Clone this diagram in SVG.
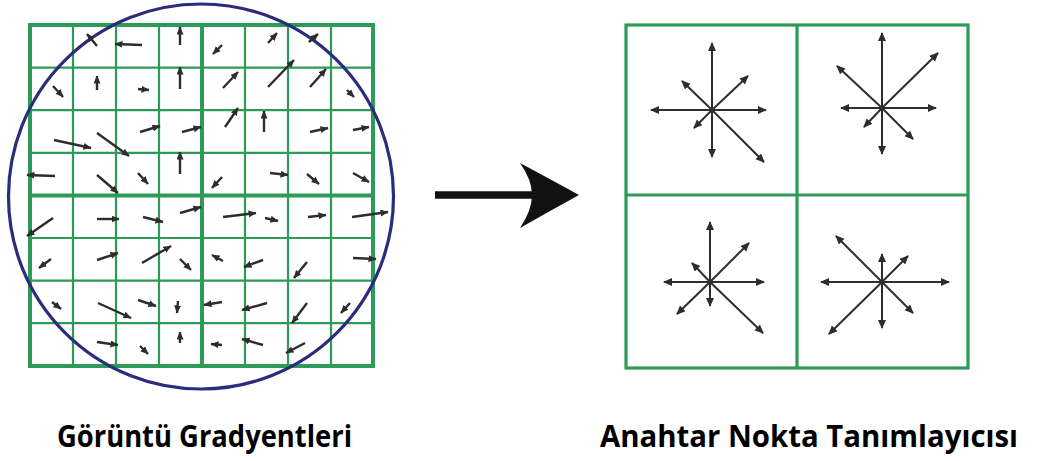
<svg xmlns="http://www.w3.org/2000/svg" width="1037" height="461" viewBox="0 0 1037 461">
<style>
.thin{stroke:#2e9a58;stroke-width:2.2;fill:none}
.thick{stroke:#2e9a58;stroke-width:4;fill:none}
.box{stroke:#2e9a58;stroke-width:3.2;fill:none}
.ga{stroke:#2d2d2d;stroke-width:2.4;fill:none;marker-end:url(#ah)}
.da{stroke:#2d2d2d;stroke-width:2;fill:none;marker-end:url(#dh)}
.lbl{font-family:"Open Sans","Noto Sans",sans-serif;font-weight:bold;font-size:30px;fill:#000}
</style>
<defs>
<marker id="ah" markerUnits="userSpaceOnUse" markerWidth="9" markerHeight="8" refX="7.5" refY="3.5" orient="auto"><path d="M0,0 L8,3.5 L0,7 z" fill="#2d2d2d"/></marker>
<marker id="dh" markerUnits="userSpaceOnUse" markerWidth="10" markerHeight="9" refX="8" refY="4" orient="auto"><path d="M0,0 L9,4 L0,8 z" fill="#2d2d2d"/></marker>
</defs>
<rect width="1037" height="461" fill="#fff"/>

<g id="gradients">
<g id="grid-left">
<path class="thin" d="M73,25V366M116,25V366M159,25V366M245,25V366M288,25V366M331,25V366M30,67.6H373M30,110.2H373M30,152.8H373M30,238H373M30,280.6H373M30,323.2H373"/>
<path class="thick" d="M202,25V366M30,195.4H373"/>
<rect class="thick" x="30" y="25" width="343" height="341"/>
</g>
<circle id="circle" cx="201" cy="196.5" r="192.5" fill="none" stroke="#2b2d7c" stroke-width="3.2"/>
<g id="gradient-arrows">
<line class="ga" x1="97" y1="46" x2="87" y2="34"/>
<line class="ga" x1="142" y1="45" x2="115" y2="44"/>
<line class="ga" x1="180" y1="45" x2="180" y2="27"/>
<line class="ga" x1="222" y1="45" x2="213" y2="54"/>
<line class="ga" x1="268" y1="43" x2="277" y2="33"/>
<line class="ga" x1="309" y1="42" x2="318" y2="34"/>

<line class="ga" x1="53" y1="86" x2="63" y2="97"/>
<line class="ga" x1="97" y1="90" x2="97" y2="76"/>
<line class="ga" x1="138" y1="89" x2="149" y2="90"/>
<line class="ga" x1="180" y1="89" x2="180" y2="67"/>
<line class="ga" x1="223" y1="88" x2="238" y2="72"/>
<line class="ga" x1="268" y1="87" x2="294" y2="60"/>
<line class="ga" x1="310" y1="87" x2="326" y2="69"/>
<line class="ga" x1="347" y1="90" x2="354" y2="97"/>

<line class="ga" x1="54" y1="140" x2="91" y2="148"/>
<line class="ga" x1="97" y1="133" x2="129" y2="156"/>
<line class="ga" x1="140" y1="132" x2="160" y2="126"/>
<line class="ga" x1="182" y1="132" x2="201" y2="127"/>
<line class="ga" x1="225" y1="127" x2="238" y2="108"/>
<line class="ga" x1="264" y1="132" x2="264" y2="111"/>
<line class="ga" x1="310" y1="132" x2="328" y2="128"/>
<line class="ga" x1="353" y1="130" x2="369" y2="127"/>

<line class="ga" x1="55" y1="176" x2="27" y2="175"/>
<line class="ga" x1="97" y1="175" x2="118" y2="193"/>
<line class="ga" x1="138" y1="173" x2="148" y2="184"/>
<line class="ga" x1="180" y1="174" x2="180" y2="152"/>
<line class="ga" x1="222" y1="177" x2="212" y2="188"/>
<line class="ga" x1="270" y1="173" x2="288" y2="175"/>
<line class="ga" x1="307" y1="174" x2="319" y2="184"/>
<line class="ga" x1="353" y1="173" x2="369" y2="182"/>

<line class="ga" x1="53" y1="218" x2="27" y2="236"/>
<line class="ga" x1="97" y1="219" x2="119" y2="219"/>
<line class="ga" x1="143" y1="217" x2="163" y2="222"/>
<line class="ga" x1="180" y1="213" x2="201" y2="207"/>
<line class="ga" x1="223" y1="217" x2="256" y2="213"/>
<line class="ga" x1="265" y1="218" x2="278" y2="221"/>
<line class="ga" x1="308" y1="217" x2="326" y2="215"/>
<line class="ga" x1="352" y1="217" x2="388" y2="212"/>

<line class="ga" x1="51" y1="259" x2="39" y2="268"/>
<line class="ga" x1="97" y1="260" x2="118" y2="253"/>
<line class="ga" x1="142" y1="263" x2="171" y2="246"/>
<line class="ga" x1="180" y1="259" x2="191" y2="270"/>
<line class="ga" x1="223" y1="261" x2="212" y2="255"/>
<line class="ga" x1="263" y1="260" x2="244" y2="267"/>
<line class="ga" x1="307" y1="262" x2="294" y2="278"/>
<line class="ga" x1="353" y1="258" x2="376" y2="259"/>

<line class="ga" x1="52" y1="302" x2="61" y2="309"/>
<line class="ga" x1="98" y1="303" x2="131" y2="318"/>
<line class="ga" x1="138" y1="300" x2="156" y2="306"/>
<line class="ga" x1="178" y1="301" x2="177" y2="313"/>
<line class="ga" x1="222" y1="302" x2="204" y2="305"/>
<line class="ga" x1="267" y1="303" x2="242" y2="310"/>
<line class="ga" x1="307" y1="303" x2="292" y2="323"/>
<line class="ga" x1="350" y1="303" x2="341" y2="313"/>

<line class="ga" x1="97" y1="342" x2="118" y2="345"/>
<line class="ga" x1="140" y1="346" x2="148" y2="354"/>
<line class="ga" x1="180" y1="343" x2="180" y2="332"/>
<line class="ga" x1="222" y1="345" x2="211" y2="344"/>
<line class="ga" x1="263" y1="345" x2="242" y2="339"/>
<line class="ga" x1="305" y1="343" x2="286" y2="353"/>
</g>
</g>

<g id="connectors">
<line x1="435" y1="195" x2="536" y2="195" stroke="#111" stroke-width="7.5"/>
<path d="M579,195 Q548,178 520,163 Q532,180 532,195 Q532,210 520,228 Q548,212 579,195 z" fill="#111"/>
</g>

<g id="descriptor">
<g id="grid-right">
<rect class="box" x="626" y="25" width="342" height="343"/>
<path class="box" d="M797,25V368M626,195H968"/>
</g>
<g id="star-tl">
<line class="da" x1="712" y1="110" x2="712" y2="43"/>
<line class="da" x1="712" y1="110" x2="712" y2="157"/>
<line class="da" x1="712" y1="110" x2="651" y2="110"/>
<line class="da" x1="712" y1="110" x2="766" y2="110"/>
<line class="da" x1="712" y1="110" x2="748" y2="76"/>
<line class="da" x1="712" y1="110" x2="682" y2="81"/>
<line class="da" x1="712" y1="110" x2="694" y2="128"/>
<line class="da" x1="712" y1="110" x2="764" y2="162"/>
<circle cx="712" cy="110" r="2.5" fill="#2d2d2d"/>
</g>
<g id="star-tr">
<line class="da" x1="882" y1="108" x2="882" y2="33"/>
<line class="da" x1="882" y1="108" x2="882" y2="154"/>
<line class="da" x1="882" y1="108" x2="841" y2="108"/>
<line class="da" x1="882" y1="108" x2="936" y2="108"/>
<line class="da" x1="882" y1="108" x2="938" y2="53"/>
<line class="da" x1="882" y1="108" x2="837" y2="66"/>
<line class="da" x1="882" y1="108" x2="864" y2="127"/>
<line class="da" x1="882" y1="108" x2="913" y2="139"/>
<circle cx="882" cy="108" r="2.5" fill="#2d2d2d"/>
</g>
<g id="star-bl">
<line class="da" x1="710" y1="282" x2="710" y2="222"/>
<line class="da" x1="710" y1="282" x2="710" y2="306"/>
<line class="da" x1="710" y1="282" x2="664" y2="282"/>
<line class="da" x1="710" y1="282" x2="764" y2="282"/>
<line class="da" x1="710" y1="282" x2="749" y2="243"/>
<line class="da" x1="710" y1="282" x2="692" y2="263"/>
<line class="da" x1="710" y1="282" x2="677" y2="314"/>
<line class="da" x1="710" y1="282" x2="763" y2="333"/>
<circle cx="710" cy="282" r="2.5" fill="#2d2d2d"/>
</g>
<g id="star-br">
<line class="da" x1="882" y1="282" x2="882" y2="254"/>
<line class="da" x1="882" y1="282" x2="882" y2="328"/>
<line class="da" x1="882" y1="282" x2="821" y2="282"/>
<line class="da" x1="882" y1="282" x2="949" y2="282"/>
<line class="da" x1="882" y1="282" x2="908" y2="256"/>
<line class="da" x1="882" y1="282" x2="836" y2="236"/>
<line class="da" x1="882" y1="282" x2="829" y2="334"/>
<line class="da" x1="882" y1="282" x2="913" y2="313"/>
<circle cx="882" cy="282" r="2.5" fill="#2d2d2d"/>
</g>
</g>

<g id="labels">
<text class="lbl" x="57" y="447" textLength="295" lengthAdjust="spacingAndGlyphs">Görüntü Gradyentleri</text>
<text class="lbl" x="600" y="447" textLength="418" lengthAdjust="spacingAndGlyphs">Anahtar Nokta Tanımlayıcısı</text>
</g>
</svg>
